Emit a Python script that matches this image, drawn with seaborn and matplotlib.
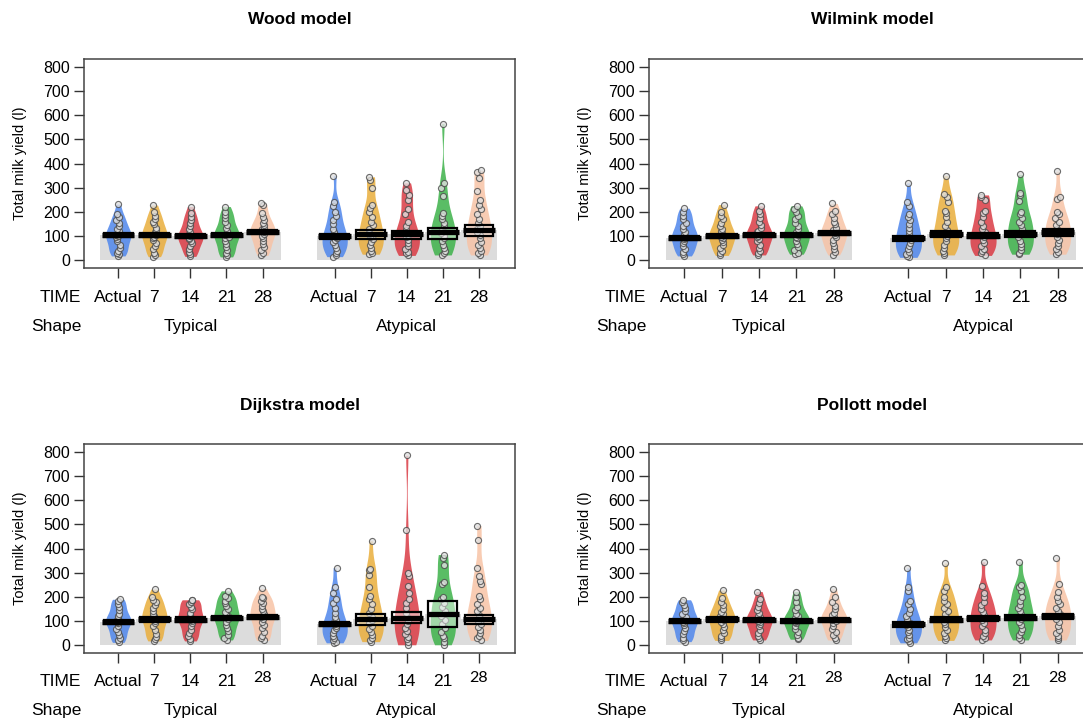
import numpy as np
import pandas as pd
import matplotlib
matplotlib.use("Agg")
import matplotlib.pyplot as plt
import matplotlib.transforms as mtransforms
from matplotlib.patches import Rectangle
import seaborn as sns

# ---- data (litres) ----
time_labels = ["Actual", "7", "14", "21", "28"]
shape_labels = ["Typical", "Atypical"]
colors = ["#4F86EC", "#E9AE3C", "#DA3B44", "#3DB24A", "#F7C3A6"]

# Wood model
wood_typ = [
    [18, 25, 32, 40, 52, 65, 78, 88, 95, 100, 106, 112, 120, 128, 140, 152, 165, 178, 192, 232],
    [15, 22, 30, 45, 58, 70, 82, 90, 97, 104, 110, 118, 125, 135, 148, 160, 172, 185, 200, 228],
    [16, 24, 35, 48, 60, 72, 80, 88, 94, 99, 105, 110, 118, 130, 142, 155, 168, 180, 195, 222],
    [14, 20, 30, 42, 55, 68, 80, 92, 98, 103, 108, 115, 122, 132, 145, 160, 175, 188, 198, 222],
    [20, 30, 42, 55, 68, 80, 92, 102, 110, 115, 120, 128, 135, 145, 155, 165, 180, 195, 230, 235],
]
wood_atyp = [
    [15, 22, 30, 40, 50, 62, 75, 85, 92, 98, 105, 118, 130, 148, 165, 185, 200, 225, 240, 350],
    [25, 30, 38, 50, 62, 75, 88, 98, 108, 118, 130, 145, 160, 180, 200, 215, 230, 300, 330, 345],
    [20, 28, 36, 48, 58, 70, 82, 95, 105, 115, 125, 140, 160, 190, 210, 250, 270, 290, 320],
    [22, 30, 40, 52, 65, 78, 90, 102, 112, 125, 140, 155, 170, 185, 195, 265, 300, 318, 565],
    [22, 30, 40, 50, 62, 75, 90, 105, 118, 130, 140, 155, 170, 190, 210, 230, 250, 285, 340, 365, 372],
]
wood_mean = [[105, 104, 101, 104, 117], [99, 110, 107, 115, 124]]
wood_lo = [[96, 95, 92, 95, 107], [88, 89, 89, 88, 101]]
wood_hi = [[114, 113, 110, 113, 127], [110, 126, 122, 133, 144]]

# Wilmink model
wilmink_typ = [
    [18, 25, 35, 45, 58, 70, 80, 88, 94, 100, 108, 118, 128, 140, 155, 170, 185, 198, 215],
    [20, 28, 38, 50, 62, 75, 85, 92, 98, 105, 112, 120, 130, 142, 155, 170, 185, 200, 230],
    [22, 30, 40, 52, 65, 78, 88, 96, 102, 108, 115, 122, 132, 145, 160, 175, 190, 205, 225],
    [25, 32, 42, 55, 68, 80, 90, 98, 104, 110, 118, 128, 140, 155, 170, 185, 200, 212, 225],
    [22, 35, 48, 60, 72, 85, 95, 105, 112, 118, 125, 135, 148, 160, 175, 190, 205, 235],
]
wilmink_atyp = [
    [12, 18, 25, 35, 45, 58, 70, 82, 90, 98, 108, 120, 135, 150, 165, 180, 190, 225, 240, 320],
    [22, 30, 40, 52, 65, 80, 92, 102, 112, 125, 140, 160, 180, 195, 205, 240, 260, 275, 350],
    [20, 28, 38, 48, 60, 72, 85, 95, 105, 115, 128, 142, 160, 180, 195, 205, 250, 262, 270],
    [25, 32, 42, 55, 68, 80, 95, 108, 118, 130, 145, 160, 175, 190, 200, 245, 270, 280, 355],
    [25, 35, 45, 58, 70, 85, 98, 110, 120, 130, 145, 160, 175, 190, 200, 255, 262, 368],
]
wilmink_mean = [[93, 99, 103, 104, 112], [90, 107, 101, 110, 115]]
wilmink_lo = [[85, 91, 95, 96, 103], [80, 95, 90, 98, 100]]
wilmink_hi = [[101, 108, 111, 112, 121], [100, 120, 113, 123, 128]]

# Dijkstra model
dijkstra_typ = [
    [12, 20, 30, 42, 55, 68, 80, 90, 96, 100, 105, 112, 120, 130, 145, 160, 172, 185, 190],
    [18, 25, 35, 48, 62, 78, 90, 100, 108, 115, 122, 130, 140, 152, 165, 178, 188, 200, 232],
    [18, 26, 38, 50, 64, 78, 90, 100, 106, 112, 118, 125, 135, 148, 160, 170, 180, 186, 188],
    [22, 30, 42, 58, 72, 85, 98, 108, 115, 120, 128, 138, 150, 162, 175, 185, 195, 205, 225],
    [20, 28, 40, 55, 70, 85, 98, 110, 118, 124, 130, 140, 150, 162, 175, 185, 195, 200, 235],
]
dijkstra_atyp = [
    [10, 15, 22, 30, 40, 52, 62, 72, 80, 88, 95, 105, 118, 135, 155, 175, 190, 215, 240, 320],
    [15, 22, 30, 42, 55, 68, 80, 92, 105, 118, 135, 150, 170, 190, 205, 240, 290, 310, 315, 432],
    [2, 15, 25, 35, 45, 58, 72, 88, 102, 118, 135, 155, 175, 190, 215, 245, 285, 300, 475, 785],
    [2, 15, 28, 40, 55, 70, 88, 105, 122, 140, 158, 175, 190, 200, 255, 260, 330, 360, 375],
    [20, 28, 38, 50, 62, 75, 88, 100, 112, 125, 140, 155, 170, 190, 205, 255, 265, 285, 318, 435, 495],
]
dijkstra_mean = [[97, 107, 106, 114, 118], [88, 108, 114, 129, 108]]
dijkstra_lo = [[89, 98, 97, 105, 109], [80, 85, 90, 76, 88]]
dijkstra_hi = [[105, 116, 115, 123, 127], [96, 129, 136, 181, 126]]

# Pollott model
pollott_typ = [
    [15, 22, 32, 45, 58, 70, 82, 92, 98, 104, 110, 118, 128, 140, 155, 168, 180, 188],
    [20, 28, 38, 50, 62, 75, 88, 98, 105, 112, 120, 128, 138, 150, 165, 180, 195, 228],
    [22, 30, 40, 52, 65, 78, 88, 96, 102, 108, 115, 122, 132, 145, 160, 175, 192, 222],
    [25, 32, 42, 55, 68, 80, 90, 98, 102, 106, 112, 120, 130, 145, 160, 178, 200, 222],
    [22, 30, 42, 55, 68, 80, 92, 100, 106, 112, 118, 125, 135, 148, 162, 180, 198, 233],
]
pollott_atyp = [
    [10, 16, 24, 32, 42, 55, 65, 75, 82, 90, 98, 108, 120, 135, 150, 170, 185, 225, 240, 320],
    [20, 28, 38, 50, 62, 75, 88, 98, 108, 118, 130, 142, 155, 170, 185, 200, 225, 240, 340],
    [22, 30, 40, 52, 65, 78, 92, 105, 115, 125, 138, 150, 165, 180, 200, 215, 245, 345],
    [22, 30, 42, 55, 68, 82, 95, 108, 118, 128, 140, 152, 168, 185, 200, 225, 240, 250, 345],
    [22, 30, 40, 52, 65, 80, 95, 108, 120, 130, 142, 155, 170, 185, 200, 220, 255, 362],
]
pollott_mean = [[100, 107, 103, 100, 104], [86, 105, 111, 114, 119]]
pollott_lo = [[92, 98, 95, 92, 96], [76, 95, 100, 103, 108]]
pollott_hi = [[108, 116, 111, 108, 112], [96, 116, 122, 125, 130]]

# ---- style ----
sns.set_theme(style="white")
plt.rcParams["font.family"] = ["Liberation Sans", "DejaVu Sans"]
plt.rcParams["text.color"] = "black"
plt.rcParams["xtick.color"] = "#333333"
plt.rcParams["ytick.color"] = "#333333"
plt.rcParams["ytick.labelcolor"] = "black"
np.random.seed(3)  # jitter only

W, H = 1083, 721
fig = plt.figure(figsize=(W / 100, H / 100), dpi=100)


def add_axes_px(left, top, width, height):
    return fig.add_axes([left / W, 1 - (top + height) / H, width / W, height / H])


def draw_panel(ax, width_px, title, typ, atyp, means, lo, hi, odd_28=False):
    ax_h = 209.0
    rows = []
    xs = []
    for s, groups in enumerate([typ, atyp]):
        for i, vals in enumerate(groups):
            x = i + 1 + 6 * s
            xs.append(x)
            for v in vals:
                rows.append((x, time_labels[i], v))
    df = pd.DataFrame(rows, columns=["pos", "time", "value"])
    m = means[0] + means[1]
    lo_all = lo[0] + lo[1]
    hi_all = hi[0] + hi[1]

    # grey mean bars
    sns.barplot(x=xs, y=m, native_scale=True, width=1, color="#DCDCDC",
                saturation=1, errorbar=None, linewidth=0, ax=ax, zorder=1)
    # violins
    n0 = len(ax.collections)
    sns.violinplot(data=df, x="pos", y="value", hue="time", hue_order=time_labels,
                   palette=colors, native_scale=True, dodge=False, inner=None,
                   cut=0, bw_adjust=0.8, density_norm="width", width=0.7,
                   linewidth=0, saturation=1, legend=False, ax=ax)
    for c in ax.collections[n0:]:
        c.set_alpha(0.85)
        c.set_zorder(2)
    # raw points
    sns.stripplot(data=df, x="pos", y="value", native_scale=True, jitter=0.06,
                  color="#E0E0E0", edgecolor="#4A4A4A", linewidth=0.8, size=4.4,
                  alpha=0.8, ax=ax, zorder=3)
    # HDI boxes and mean lines
    for x, l, h in zip(xs, lo_all, hi_all):
        ax.add_patch(Rectangle((x - 0.4, l), 0.8, h - l, facecolor=(1, 1, 1, 0.45),
                               edgecolor="black", linewidth=1.6, zorder=4))
    ax.hlines(m, np.array(xs) - 0.45, np.array(xs) + 0.45, colors="black",
              linewidth=3.8, zorder=5)

    ax.set_xlim(0.05, 12)
    ax.set_ylim(-32, 832)
    ax.set_yticks(range(0, 801, 100))
    ax.set_xticks(xs)
    ax.set_xticklabels([])
    ax.set_xlabel("")
    ax.set_ylabel("")
    ax.tick_params(axis="both", direction="out", length=7, width=1,
                   labelsize=11.5, pad=3, left=True, bottom=True)
    for sp in ax.spines.values():
        sp.set_visible(True)
        sp.set_color("#444444")
        sp.set_linewidth(1.1)

    trans = mtransforms.blended_transform_factory(ax.transData, ax.transAxes)
    y1 = -29 / ax_h
    y2 = -58 / ax_h
    for x, lab in zip(xs, time_labels * 2):
        if odd_28 and lab == "28":
            ax.text(x, -25 / ax_h, lab, transform=trans, ha="center", va="center",
                    fontsize=11.5, family=["Lato", "DejaVu Sans"])
        else:
            ax.text(x, y1, lab, transform=trans, ha="center", va="center", fontsize=12.5)
    ax.text(-0.006, y1, "TIME", transform=ax.transAxes, ha="right", va="center", fontsize=12.5)
    ax.text(-0.006, y2, "Shape", transform=ax.transAxes, ha="right", va="center", fontsize=12.5)
    ax.text(3, y2, shape_labels[0], transform=trans, ha="center", va="center", fontsize=12.5)
    ax.text(9, y2, shape_labels[1], transform=trans, ha="center", va="center", fontsize=12.5)

    ax.text(-64 / width_px, 0.5, "Total milk yield (l)", transform=ax.transAxes,
            rotation=90, ha="center", va="center", fontsize=10.5)
    ax.text(0.5, 1 + 39 / ax_h, title, transform=ax.transAxes, ha="center",
            va="center", fontsize=12.5, fontweight="bold")


ax1 = add_axes_px(84, 59, 431, 209)
ax2 = add_axes_px(649, 59, 446, 209)
ax3 = add_axes_px(84, 444, 431, 209)
ax4 = add_axes_px(649, 444, 446, 209)

draw_panel(ax1, 431, "Wood model", wood_typ, wood_atyp, wood_mean, wood_lo, wood_hi)
draw_panel(ax2, 446, "Wilmink model", wilmink_typ, wilmink_atyp, wilmink_mean, wilmink_lo, wilmink_hi)
draw_panel(ax3, 431, "Dijkstra model", dijkstra_typ, dijkstra_atyp, dijkstra_mean,
           dijkstra_lo, dijkstra_hi, odd_28=True)
draw_panel(ax4, 446, "Pollott model", pollott_typ, pollott_atyp, pollott_mean,
           pollott_lo, pollott_hi, odd_28=True)

fig.savefig("out.png", dpi=100)
